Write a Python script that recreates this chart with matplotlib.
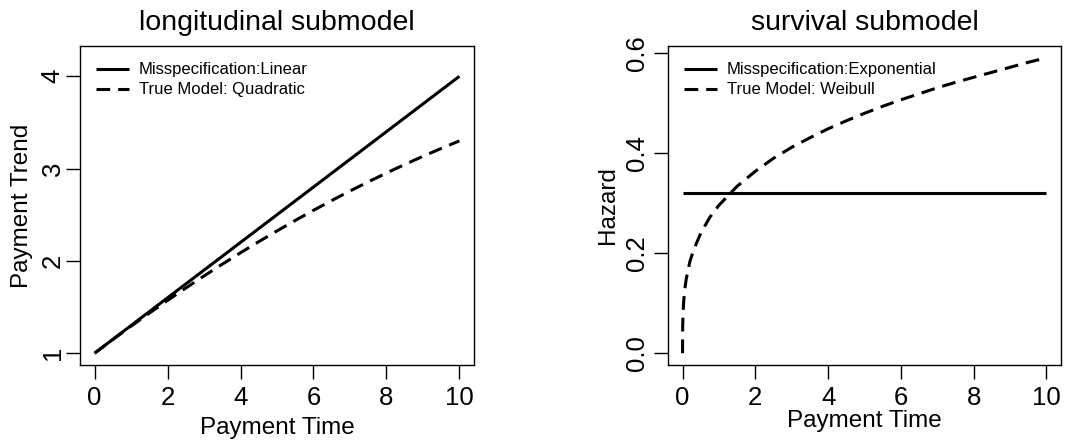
import matplotlib
matplotlib.use("Agg")
import matplotlib.pyplot as plt

plt.rcParams["font.family"] = ["Liberation Sans", "DejaVu Sans"]

# Longitudinal submodel: payment trend over time
long_time = [0, 0.5, 1, 1.5, 2, 2.5, 3, 3.5, 4, 4.5, 5, 5.5, 6, 6.5, 7, 7.5,
             8, 8.5, 9, 9.5, 10]
linear_trend = [1.00, 1.15, 1.30, 1.45, 1.60, 1.75, 1.90, 2.05, 2.20, 2.35, 2.50,
                2.65, 2.80, 2.95, 3.10, 3.25, 3.40, 3.55, 3.70, 3.85, 4.00]
quadratic_trend = [1.000, 1.148, 1.293, 1.434, 1.572, 1.706, 1.837, 1.964, 2.088,
                   2.208, 2.325, 2.438, 2.548, 2.654, 2.757, 2.856, 2.952, 3.044,
                   3.133, 3.218, 3.300]

# Survival submodel: hazard over time
surv_time = [0, 0.002, 0.01, 0.03, 0.06, 0.1, 0.2, 0.3, 0.5, 0.75, 1, 1.5, 2, 2.5,
             3, 3.5, 4, 4.5, 5, 5.5, 6, 6.5, 7, 7.5, 8, 8.5, 9, 9.5, 10]
weibull_hazard = [0.000, 0.046, 0.074, 0.103, 0.127, 0.148, 0.183, 0.206, 0.240,
                  0.272, 0.296, 0.334, 0.364, 0.390, 0.412, 0.431, 0.449, 0.465,
                  0.480, 0.494, 0.507, 0.519, 0.531, 0.542, 0.552, 0.562, 0.572,
                  0.582, 0.591]
exp_hazard = [0.32] * len(surv_time)

W, H = 1082, 445
fig = plt.figure(figsize=(W / 100, H / 100), dpi=100)

LW = 2.2
DASH = (0, (4.5, 2.6))
TICK_FS = 18.5
LABEL_FS = 17.5
TITLE_FS = 20.5
AX_BOTTOM, AX_TOP = 365, 46
AX_H = AX_BOTTOM - AX_TOP


def r_range(lo, hi):
    pad = (hi - lo) * 0.04
    return lo - pad, hi + pad


def style(ax, yticks, ylabels, ypad):
    for s in ax.spines.values():
        s.set_linewidth(1.0)
    ax.set_xticks([0, 2, 4, 6, 8, 10])
    ax.set_yticks(yticks)
    ax.set_yticklabels(ylabels, rotation=90, va="center")
    ax.tick_params(direction="out", length=10, width=1.0, labelsize=TICK_FS)
    ax.tick_params(axis="x", pad=5)
    ax.tick_params(axis="y", pad=ypad)


def decorate(ax, left, width, title, xlabel, ylabel, xlab_y, ylab_x):
    ax.text(0.5, (AX_BOTTOM - 23) / AX_H, title, transform=ax.transAxes,
            ha="center", va="center", fontsize=TITLE_FS)
    ax.set_xlabel(xlabel, fontsize=LABEL_FS, va="center")
    ax.xaxis.set_label_coords(0.5, (AX_BOTTOM - xlab_y) / AX_H)
    ax.set_ylabel(ylabel, fontsize=LABEL_FS, va="center")
    ax.yaxis.set_label_coords((ylab_x - left) / width, 0.5)
    ax.legend(loc="upper left", frameon=False, fontsize=12, handlelength=2.0,
              handletextpad=0.6, labelspacing=0.3, borderaxespad=0.3,
              bbox_to_anchor=(0.01, 0.985))


# left panel
L1, W1 = 80, 394
ax1 = fig.add_axes([L1 / W, 1 - AX_BOTTOM / H, W1 / W, AX_H / H])
ax1.plot(long_time, linear_trend, color="black", lw=LW, solid_capstyle="butt",
         label="Misspecification:Linear")
ax1.plot(long_time, quadratic_trend, color="black", lw=LW, linestyle=DASH,
         label="True Model: Quadratic")
ax1.set_xlim(*r_range(0, 10))
ax1.set_ylim(*r_range(1, 4.2))
style(ax1, [1, 2, 3, 4], ["1", "2", "3", "4"], ypad=1)
decorate(ax1, L1, W1, "longitudinal submodel", "Payment Time", "Payment Trend",
         xlab_y=428, ylab_x=22)

# right panel
L2, W2 = 668, 393
ax2 = fig.add_axes([L2 / W, 1 - AX_BOTTOM / H, W2 / W, AX_H / H])
ax2.plot(surv_time, exp_hazard, color="black", lw=LW, solid_capstyle="butt",
         label="Misspecification:Exponential")
ax2.plot(surv_time, weibull_hazard, color="black", lw=LW, linestyle=DASH,
         label="True Model: Weibull")
ax2.set_xlim(*r_range(0, 10))
ax2.set_ylim(*r_range(0, max(weibull_hazard)))
style(ax2, [0, 0.2, 0.4, 0.6], ["0.0", "0.2", "0.4", "0.6"], ypad=4)
decorate(ax2, L2, W2, "survival submodel", "Payment Time", "Hazard",
         xlab_y=421, ylab_x=608)

fig.savefig("out.png", dpi=100, facecolor="white")
